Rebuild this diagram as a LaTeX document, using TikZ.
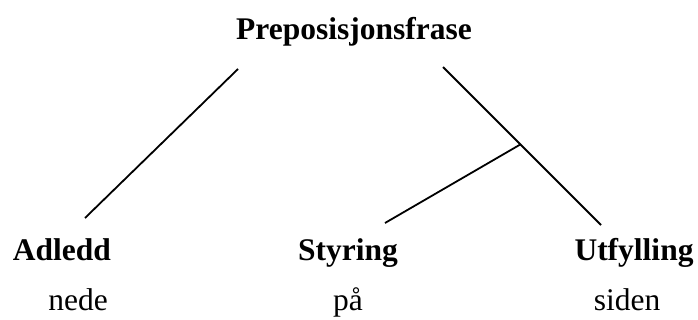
\documentclass[tikz,border=0pt]{standalone}
\usepackage{fontspec}
\setmainfont{Liberation Serif}
\usetikzlibrary{calc}
\tikzset{
  catlabel/.style={anchor=base, inner sep=0pt, font=\fontsize{31.5}{38}\selectfont\bfseries},
  wordlabel/.style={anchor=base, inner sep=0pt, font=\fontsize{31.5}{38}\selectfont},
  branch/.style={line width=1.8pt, draw=black},
}
\begin{document}
\begin{tikzpicture}[x=1pt, y=1pt]
  \useasboundingbox (0,0) rectangle (698,-320);

  % ----------------------------------------------------------------
  % Phrase and its constituents
  % ----------------------------------------------------------------
  \node[catlabel] (pp) at (354,-40) {Preposisjonsfrase};

  \node[catlabel] (adl) at (62,-261) {Adledd};
  \node[catlabel] (sty) at (348,-261) {Styring};
  \node[catlabel] (utf) at (634,-261) {Utfylling};

  % ----------------------------------------------------------------
  % Words below each constituent
  % ----------------------------------------------------------------
  \node[wordlabel] (nede) at (78,-310) {nede};
  \node[wordlabel] (paa) at (348,-310) {på};
  \node[wordlabel] (siden) at (627,-310) {siden};

  % ----------------------------------------------------------------
  % Branch ends
  % ----------------------------------------------------------------
  \coordinate (pp-left) at (238,-69);
  \coordinate (pp-right) at (443,-67);
  \coordinate (adl-top) at (85,-218);
  \coordinate (sty-top) at (385,-223);
  \coordinate (utf-top) at (601,-225);
  \coordinate (fork) at ($(pp-right)!0.49!(utf-top)$);

  \draw[branch] (pp-left) -- (adl-top);
  \draw[branch] (pp-right) -- (utf-top);
  \draw[branch] (fork) -- (sty-top);

\end{tikzpicture}
\end{document}
